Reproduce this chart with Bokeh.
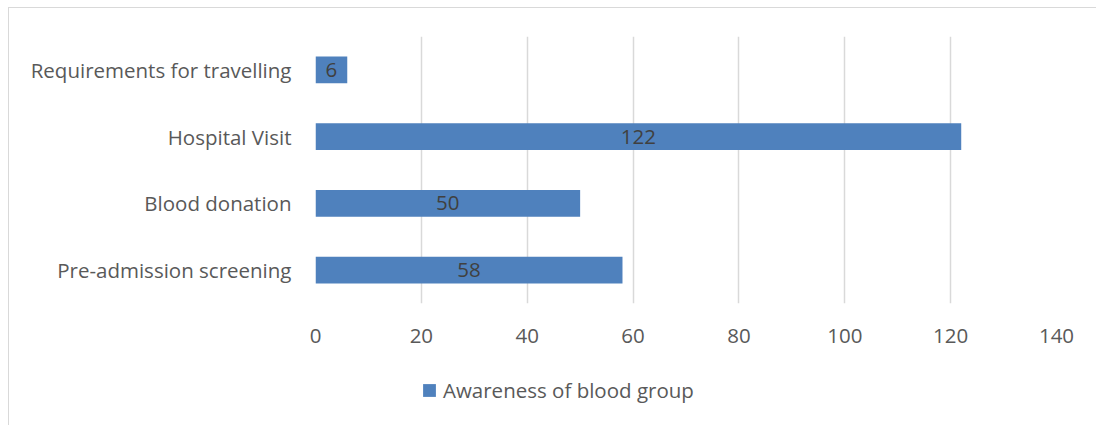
from bokeh.plotting import figure
from bokeh.layouts import column
from bokeh.models import ColumnDataSource, Range1d, FactorRange, FixedTicker, LabelSet, Legend, LegendItem
from bokeh.core.properties import value
from bokeh.embed import file_html
from bokeh.resources import INLINE

categories = ["Pre-admission screening", "Blood donation", "Hospital Visit", "Requirements for travelling"]
values = [58, 50, 122, 6]
series_name = "Awareness of blood group"
x_ticks = [0, 20, 40, 60, 80, 100, 120, 140]

FONT = "Open Sans"
FS = "20.5px"
BAR = "#4f81bd"
src = ColumnDataSource(dict(cat=categories, val=values, mid=[v / 2 for v in values], lab=[str(v) for v in values]))

p = figure(width=1087, height=345, output_backend="svg", toolbar_location=None,
           y_range=FactorRange(*categories), x_range=Range1d(0, 140),
           min_border_left=306, min_border_right=40, min_border_top=28, min_border_bottom=50)
p.outline_line_color = None
p.background_fill_color = "white"
p.border_fill_color = "white"

r = p.hbar(y="cat", right="val", left=0, height=0.4, source=src, fill_color=BAR, line_color=None)

labels = LabelSet(x="mid", y="cat", text="lab", source=src, text_align="center", text_baseline="middle",
                  text_color="#404040", text_font=value(FONT), text_font_size=FS)
p.add_layout(labels)

p.xaxis.ticker = FixedTicker(ticks=x_ticks)
p.xaxis.axis_line_color = None
p.xaxis.major_tick_line_color = None
p.xaxis.minor_tick_line_color = None
p.xaxis.major_label_text_font = FONT
p.xaxis.major_label_text_font_size = FS
p.xaxis.major_label_text_color = "#595959"
p.xaxis.major_label_standoff = 19

p.yaxis.axis_line_color = None
p.yaxis.major_tick_line_color = None
p.yaxis.minor_tick_line_color = None
p.yaxis.major_label_text_font = FONT
p.yaxis.major_label_text_font_size = FS
p.yaxis.major_label_text_color = "#595959"
p.yaxis.major_label_standoff = 18

p.xgrid.grid_line_color = "#d9d9d9"
p.xgrid.grid_line_width = 1.5
p.xgrid.ticker = FixedTicker(ticks=x_ticks)
p.ygrid.grid_line_color = None

# legend strip below the chart (its renderer is hidden; it only supplies the legend swatch)
lf = figure(width=1087, height=72, output_backend="svg", toolbar_location=None,
            x_range=Range1d(0, 1), y_range=FactorRange(*categories),
            x_axis_location=None, y_axis_location=None, min_border=0)
lf.outline_line_color = None
lf.grid.grid_line_color = None
lr = lf.hbar(y="cat", right="val", left=0, height=0.4, source=src, fill_color=BAR, line_color=None)
lr.visible = False
legend = Legend(items=[LegendItem(label=value(series_name), renderers=[lr])], location=(106, 21),
                border_line_color=None, background_fill_alpha=0, padding=0, margin=0,
                inactive_fill_alpha=0, click_policy="none",
                glyph_width=16, glyph_height=16, label_standoff=6, label_height=20,
                label_text_font=FONT, label_text_font_size=FS, label_text_color="#595959")
lf.add_layout(legend, "center")

layout = column(p, lf, spacing=0, margin=(7, 0, 0, 8))
layout.styles = {"border-left": "1px solid #d9d9d9", "border-top": "1px solid #d9d9d9"}

open("out.html", "w").write(file_html(layout, INLINE))
